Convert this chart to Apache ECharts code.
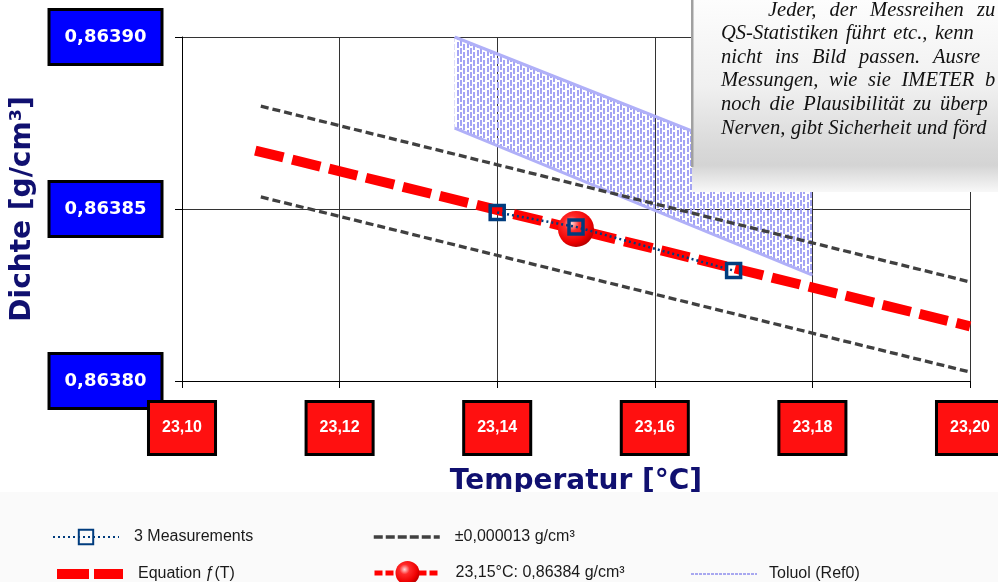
<!DOCTYPE html>
<html><head><meta charset="utf-8">
<script src="https://cdn.jsdelivr.net/npm/echarts@6/dist/echarts.min.js"></script>
<style>html,body{margin:0;padding:0;background:#fff}#c{width:998px;height:582px}</style>
</head><body><div id="c"></div>
<script>
// ---- data ----
const xTicks = [23.10, 23.12, 23.14, 23.16, 23.18, 23.20];
const yTicks = [0.86380, 0.86385, 0.86390];
const measX = [23.14, 23.15, 23.17];
const measY = [0.863849, 0.8638448, 0.8638321];
const eqX = [23.1093, 23.20];
const eqY = [0.863867, 0.8638159];
const tolX = [23.11, 23.20];
const tolUpperY = [0.8638799, 0.8638288];
const tolLowerY = [0.8638535, 0.8638026];
const pointX = [23.15];
const pointY = [0.8638442];
const refX = [23.1346, 23.18];
const refUpperY = [0.863900, 0.8638588];
const refLowerY = [0.8638735, 0.8638308];

const NAME_MEAS = '3 Measurements';
const NAME_TOL = '±0,000013 g/cm³';
const NAME_EQ = 'Equation ƒ(T)';
const NAME_PT = '23,15°C: 0,86384 g/cm³';
const NAME_REF = 'Toluol (Ref0)';

const SANS = "'Liberation Sans',Arial,sans-serif";
const BOLDF = "'DejaVu Sans',Verdana,sans-serif";
const SERIF_FONT = "italic 20.5px 'Liberation Serif','Times New Roman',serif";

function makeHatch(){
  const c = document.createElement('canvas'); c.width = 10; c.height = 8;
  const g = c.getContext('2d');
  g.fillStyle = '#a4a4f4';
  [[0,0],[3,4],[7,2]].forEach(([x,o]) => {
    for (let y = -8; y < 16; y += 8) g.fillRect(x, y + o, 2, 6);
  });
  return c;
}
const hatch = {image: makeHatch(), repeat: 'repeat'};

function fmtNear(arr, dec){
  return v => {
    let best = arr[0];
    arr.forEach(a => { if (Math.abs(a - v) < Math.abs(best - v)) best = a; });
    return best.toFixed(dec).replace('.', ',');
  };
}

const xInterval = +(xTicks[1] - xTicks[0]).toFixed(6);
const yInterval = +(yTicks[1] - yTicks[0]).toFixed(8);

// note text (justified, clipped by the page edge): baseline, first-word x, last-word x, words
const noteLines = [
  [17, 768, 977, ['Jeder,','der','Messreihen','zu']],
  [40, 721, 935, ['QS-Statistiken','führt','etc.,','kenn']],
  [64, 721, 933, ['nicht','ins','Bild','passen.','Ausre']],
  [87, 721, 985, ['Messungen,','wie','sie','IMETER','b']],
  [111,721, 940, ['noch','die','Plausibilität','zu','überp']],
  [135,721, 953, ['Nerven,','gibt','Sicherheit','und','förd']]
];
const mctx = document.createElement('canvas').getContext('2d');
mctx.font = SERIF_FONT;
const textEls = [];
noteLines.forEach(([base, x0, x1, ws]) => {
  const widths = ws.map(w => mctx.measureText(w).width);
  const inner = widths.slice(0, -1).reduce((a, b) => a + b, 0);
  const gap = Math.max(5, (x1 - x0 - inner) / (ws.length - 1));
  let x = x0;
  ws.forEach((t, i) => {
    textEls.push({
      type:'text', x:x, y:base - 6, z:52,
      style:{text:t, font:SERIF_FONT, fill:'#111', verticalAlign:'middle', align:'left'}
    });
    x += widths[i] + gap;
  });
});

const legendBase = {
  orient:'horizontal', itemWidth:66, itemHeight:18, itemGap:0, selectedMode:false, z:60, padding:0,
  textStyle:{fontFamily:SANS, fontSize:16, lineHeight:18, color:'#1a1a1a', padding:[0,0,0,10]}
};
const hideSym = {color:'rgba(0,0,0,0)', borderWidth:0};

const chart = echarts.init(document.getElementById('c'));
chart.setOption({
  animation:false,
  backgroundColor:'#ffffff',
  grid:{left:182, right:28, top:37, bottom:201, containLabel:false, outerBoundsMode:'none'},
  xAxis:{
    type:'value', min:xTicks[0], max:xTicks[xTicks.length-1], interval:xInterval,
    name:'Temperatur [°C]', nameLocation:'middle', nameGap:87,
    nameTextStyle:{fontFamily:BOLDF, fontWeight:'bold', fontSize:28, color:'#101070'},
    axisLine:{show:true, onZero:false, lineStyle:{color:'#000', width:1}},
    axisTick:{show:true, length:7, lineStyle:{color:'#000'}},
    splitLine:{show:true, lineStyle:{color:'#333', width:1}},
    axisLabel:{margin:22, formatter:fmtNear(xTicks,2), color:'#fff', fontFamily:SANS, fontWeight:'bold', fontSize:16,
      backgroundColor:'#ff1010', borderColor:'#000', borderWidth:3, padding:[16,12,16,12], lineHeight:18}
  },
  yAxis:{
    type:'value', min:yTicks[0], max:yTicks[yTicks.length-1], interval:yInterval,
    name:'Dichte [g/cm³]', nameLocation:'middle', nameGap:140, nameRotate:90,
    nameTextStyle:{fontFamily:BOLDF, fontWeight:'bold', fontSize:28, color:'#101070'},
    axisLine:{show:true, lineStyle:{color:'#000', width:1}},
    axisTick:{show:true, length:7, lineStyle:{color:'#000'}},
    splitLine:{show:true, lineStyle:{color:'#333', width:1}},
    axisLabel:{margin:21.5, formatter:fmtNear(yTicks,5), color:'#fff', fontFamily:BOLDF, fontWeight:'bold', fontSize:18,
      backgroundColor:'#0000ff', borderColor:'#000', borderWidth:3, padding:[17,14,17,14], lineHeight:18}
  },
  legend:[
    Object.assign({}, legendBase, {left:52, top:528, data:[{name:NAME_MEAS}]}),
    Object.assign({}, legendBase, {left:372, top:528, data:[{name:NAME_TOL, itemStyle:hideSym, lineStyle:{width:3.5, type:[9,3]}}]}),
    Object.assign({}, legendBase, {left:52, top:565, data:[{name:NAME_EQ, itemStyle:hideSym, lineStyle:{width:10, type:[32,5]}}]}),
    Object.assign({}, legendBase, {left:372, top:561, itemHeight:30, data:[{name:NAME_PT, lineStyle:{width:5, type:[8,3]}}]}),
    Object.assign({}, legendBase, {left:690, top:565, textStyle:Object.assign({}, legendBase.textStyle, {padding:[0,0,0,7]}),
      data:[{name:NAME_REF, itemStyle:hideSym, lineStyle:{width:2, type:[3,1], color:'#a8a8f0'}}]})
  ],
  graphic:[
    {type:'rect', shape:{x:0, y:492, width:998, height:90}, style:{fill:'#fafafa'}, z:50},
    {type:'rect', shape:{x:692, y:0, width:306, height:192}, z:50,
      style:{fill:new echarts.graphic.LinearGradient(0,0,0,1,[
        {offset:0, color:'#fdfdfd'},{offset:0.45, color:'#f0f0f0'},{offset:0.78, color:'#d8d8d8'},
        {offset:0.86, color:'#d4d4d4'},{offset:1, color:'#f8f8f8'}])}},
    {type:'rect', shape:{x:691, y:0, width:2.5, height:167}, style:{fill:'#a0a0a0'}, z:51}
  ].concat(textEls),
  series:[
    {type:'custom', name:'refBand', coordinateSystem:'cartesian2d', silent:true, z:1,
      encode:{x:0, y:[1,2]},
      data: refX.map((x,i) => [x, refLowerY[i], refUpperY[i]]),
      renderItem:(params, api) => {
        if (params.dataIndex !== 0) return;
        const pts = [];
        for (let i = 0; i < refX.length; i++) pts.push(api.coord([refX[i], refUpperY[i]]));
        for (let i = refX.length - 1; i >= 0; i--) pts.push(api.coord([refX[i], refLowerY[i]]));
        return {type:'polygon', shape:{points:pts}, style:{fill:hatch}};
      }},
    {type:'line', name:NAME_REF, z:1, symbol:'none', data:refX.map((x,i)=>[x, refUpperY[i]]),
      lineStyle:{color:'#b0b0f8', width:3}, itemStyle:{color:'#b0b0f8'}},
    {type:'line', name:NAME_REF, z:1, symbol:'none', data:refX.map((x,i)=>[x, refLowerY[i]]),
      lineStyle:{color:'#b0b0f8', width:3}, itemStyle:{color:'#b0b0f8'}},
    {type:'line', name:NAME_TOL, z:2, symbol:'none', data:tolX.map((x,i)=>[x, tolUpperY[i]]),
      lineStyle:{color:'#404040', width:3.3, type:[8,4]}, itemStyle:{color:'#404040'}},
    {type:'line', name:NAME_TOL, z:2, symbol:'none', data:tolX.map((x,i)=>[x, tolLowerY[i]]),
      lineStyle:{color:'#404040', width:3.3, type:[8,4]}, itemStyle:{color:'#404040'}},
    {type:'line', name:NAME_EQ, z:3, symbol:'none', data:eqX.map((x,i)=>[x, eqY[i]]),
      lineStyle:{color:'#ff0000', width:10, type:[29,9]}, itemStyle:{color:'#ff0000'}},
    {type:'line', name:NAME_PT, z:4, symbol:'circle', symbolSize:36, data:pointX.map((x,i)=>[x, pointY[i]]),
      lineStyle:{color:'#ff0000', width:4, type:[8,3]},
      itemStyle:{color:{type:'radial', x:0.38, y:0.35, r:0.7, colorStops:[
        {offset:0, color:'#ffd8d8'},{offset:0.3, color:'#ff2a2a'},{offset:0.75, color:'#ee0000'},{offset:1, color:'#b00000'}]}}},
    {type:'line', name:NAME_MEAS, z:5, symbol:'rect', symbolSize:14, data:measX.map((x,i)=>[x, measY[i]]),
      lineStyle:{color:'#003c7e', width:2.5, type:[2,3]},
      itemStyle:{color:'rgba(0,0,0,0)', borderColor:'#003c7e', borderWidth:3.5}}
  ]
});
</script></body></html>
